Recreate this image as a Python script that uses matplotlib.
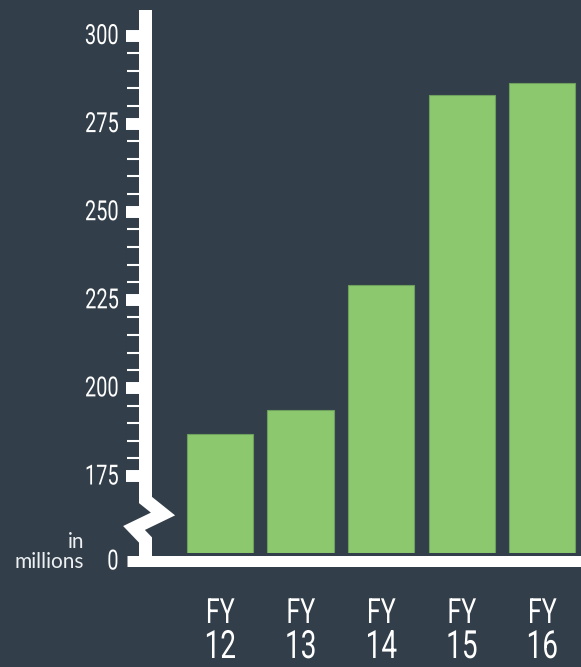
import numpy as np
import matplotlib.pyplot as plt
from matplotlib.ticker import FixedLocator
from matplotlib.patheffects import AbstractPathEffect
from matplotlib.transforms import Affine2D

# data
fy_prefix = "FY"
years = ["12", "13", "14", "15", "16"]
revenue = [186.9, 193.7, 229.2, 283.0, 286.5]  # in millions
major_ticks = [175, 200, 225, 250, 275, 300]

# colours
bg = "#323e49"
green = "#8cc96e"
white = "#ffffff"
font = ["Roboto", "DejaVu Sans"]


class Narrow(AbstractPathEffect):
    # squeeze text horizontally to mimic a condensed face
    def __init__(self, sx=0.72, anchor="center"):
        super().__init__()
        self.sx = sx
        self.anchor = anchor

    def draw_path(self, renderer, gc, tpath, affine, rgbFace=None):
        ext = tpath.get_extents(affine)
        if self.anchor == "right":
            x0 = ext.x1
        elif self.anchor == "left":
            x0 = ext.x0
        else:
            x0 = (ext.x0 + ext.x1) / 2
        squeeze = Affine2D().translate(-x0, 0).scale(self.sx, 1).translate(x0, 0)
        renderer.draw_path(gc, tpath, affine + squeeze, rgbFace)


W, H = 581, 667
fig = plt.figure(figsize=(W / 100, H / 100), dpi=100, facecolor=bg)

# main axes: left edge at axis line (139px), bottom at bar base (553px), top at 10px
base = 153.15       # value drawn at bottom of the broken axis
top_val = 307.24
ax = fig.add_axes([139 / W, (H - 553) / H, 1 - 139 / W, (553 - 10) / H])
ax.set_facecolor(bg)
x = np.arange(len(years))
ax.bar(x, np.array(revenue) - base, bottom=base, width=0.82,
       color=green, edgecolor="#6f9f5c", linewidth=0.8, zorder=2)
ax.set_xlim(-1.006, 4.484)
ax.set_ylim(base, top_val)

for s in ax.spines.values():
    s.set_visible(False)
ax.set_xticks([])
ax.yaxis.set_major_locator(FixedLocator(major_ticks))
ax.yaxis.set_minor_locator(FixedLocator([v for v in range(180, 300, 5) if v % 25]))
ax.tick_params(axis="y", which="major", length=9.4, width=8.6, color=white,
               labelleft=False)
ax.tick_params(axis="y", which="minor", length=9.0, width=1.5, color=white)

# y tick labels
for v in major_ticks:
    ax.annotate(str(v), xy=(0, v), xycoords=ax.get_yaxis_transform(),
                xytext=(-20, -1), textcoords="offset pixels", ha="right",
                va="center", color=white, fontsize=20, family=font,
                path_effects=[Narrow(0.72, "right")])

# category labels under each bar
for xi, yr in zip(x, years):
    ax.annotate(fy_prefix, xy=(xi, base), xycoords="data", xytext=(0, -70),
                textcoords="offset pixels", ha="center", va="baseline",
                color=white, fontsize=25, family=font,
                path_effects=[Narrow(0.72)])
    ax.annotate(yr, xy=(xi, base), xycoords="data", xytext=(0, -105),
                textcoords="offset pixels", ha="center", va="baseline",
                color=white, fontsize=28, family=font,
                path_effects=[Narrow(0.72)])

# overlay in pixel coordinates for the broken axis line
ov = fig.add_axes([0, 0, 1, 1], zorder=3)
ov.set_xlim(0, W)
ov.set_ylim(H, 0)
ov.axis("off")
ov.patch.set_alpha(0)
lw = 13 * 72 / 100
ov.plot([145.5, 145.5, 163, 134, 145.5, 145.5], [10, 500, 514, 528, 540, 560],
        color=white, lw=lw, solid_joinstyle="miter", solid_capstyle="butt")
ov.plot([127, W], [560.5, 560.5], color=white, lw=11 * 72 / 100,
        solid_capstyle="butt")
ov.text(119, 562, "0", ha="right", va="center", color=white, fontsize=20,
        family=font, path_effects=[Narrow(0.72, "right")])
ov.text(84, 548, "in", ha="right", va="baseline", color="#eef1f3",
        fontsize=15, family=["Lato", "DejaVu Sans"])
ov.text(84, 568, "millions", ha="right", va="baseline", color="#eef1f3",
        fontsize=15, family=["Lato", "DejaVu Sans"])

fig.savefig("out.png", dpi=100, facecolor=bg)
